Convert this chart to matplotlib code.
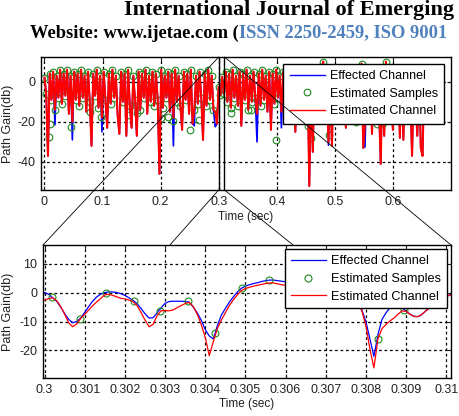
import matplotlib
matplotlib.use('Agg')
import matplotlib.pyplot as plt
import numpy as np
from matplotlib.patches import ConnectionPatch

plt.rcParams['font.family'] = ['Liberation Sans', 'DejaVu Sans']

# page header of the scanned paper
title_line = 'International Journal of Emerging'
site_text = 'Website: www.ijetae.com ('
issn_text = 'ISSN 2250-2459, ISO 9001'

# full record, one value every 3 ms (dB) - estimated channel
t_step = 0.003
est_top = [2, -6, -37, 4, -9, 5, -14, 3, -8, 6,
           -11, 4, -7, 6, -16, 3, -20, 5, -9, 4,
           -12, 6, -8, 3, -15, 5, -10, -32, 4, -7,
           6, -13, 3, -18, 5, -9, -23, 4, -11, 6,
           -8, 3, -17, -26, 5, -10, 4, -27, 6, -12,
           -23, 3, -9, -27, 5, -14, 4, -8, 6, -16,
           3, -10, 5, -12, 4, -9, -46, 6, -13, 3,
           -8, 5, -15, 4, -18, 6, -10, 3, -12, -24,
           5, -9, 4, -16, 6, -21, -14, 3, -11, 5,
           -8, -29, 4, -12, 6, -9, 3, -14, -15, -21,
           -2.6, -6.6, 2.5, -6, 5, -10, 4, -13, 6, -8,
           3, -12, 5, -22, 4, -9, 6, -14, 3, -10,
           5, -8, -16, 4, -12, 6, -9, 3, -15, 5,
           -24, 4, -11, 6, -8, 3, -15, 5, -10, 4,
           -12, 6, -9, 3, -25, 5, -11, 4, -8, 4,
           -9, 6, -52, 3, -35, 5, -12, 4, -8, 6,
           10, -11, 5, -30, 4, -32, 6, -9, 3, -13,
           5, -8, 4, -23, 6, -12, 3, -9, 5, -14,
           4, -10, 9, -33, -20, 6, -11, 3, -26, 5,
           -9, 4, -12, -41, 5, -27, 10, -8, 3, -11,
           -24, 5, -9, 4, -28, 6, -29, 3, -12, 5,
           -8, -37, 4, -10, -27, 6, -33, -37, 3, -9,
           4]
# fade tips where the effected channel goes deeper than the estimate
tip_idx = [6, 16, 33, 74, 86, 98, 122, 136, 163, 184]
tip_val = [-21.6, -29, -25, -32, -22, -22.5, -30, -23, -31.7, -32.5]
# sample circles sitting below the main band
out_t = [0.007, 0.010, 0.046, 0.079, 0.098, 0.144, 0.159, 0.200, 0.213, 0.222,
         0.250, 0.266, 0.322, 0.356, 0.399, 0.453, 0.459, 0.490, 0.536, 0.573, 0.583]
out_v = [-27.5, -21, -22.5, -15, -17.5, -16.7, -15.5, -18.3, -17.5, -19.5,
         -24, -19, -15.7, -14, -29.3, -22, -28.3, -26.7, -20, -21, -20.5]

# zoomed window starting at 0.300 s, one value every 0.1 ms
z_start = 0.3
z_step = 0.0001
eff_zoom = [0, -0.6, -1.8, -3.0, -5.0, -7.3, -9.3, -10.4, -10.0, -8.8,
            -6.8, -4.8, -2.9, -1.5, -0.5, 0, 0.2, 0.2, 0, -0.4,
            -1.0, -1.8, -2.7, -3.8, -5.5, -7.3, -8.8, -8.7, -7.0, -5.3,
            -3.7, -3.1, -3.0, -3.0, -3.0, -3.1, -3.3, -5.0, -7.0, -9.5,
            -12.8, -15.0, -16.0, -11.5, -7.8, -5.5, -3.3, -1.5, 0.2, 1.5,
            2.2, 2.7, 3.1, 3.4, 3.8, 4.1, 4.3, 4.3, 4.1, 3.9,
            3.7, 3.5, 3.2, 2.8, 2.2, 1.5, 0.8, 0.5, 0.8, 1.0,
            0.8, 0.2, -0.5, -1.0, -1.2, -1.0, -1.2, -2.0, -3.2, -6.0,
            -10.0, -16.0, -22.0, -14.5, -9.3, -7.0, -5.3, -4.5, -4.5, -5.2,
            -6.5, -7.5, -8.2, -8.3, -7.5, -6.2, -5.2, -4.0, -3.0, -2.0,
            -1.2, -0.8, -0.5]
est_zoom = [-2.6, -2.1, -1.8, -2.8, -4.8, -7.5, -10.5, -11.8, -10.8, -8.9,
            -7.5, -6.0, -4.5, -3.2, -2.0, -0.8, -0.6, -1.0, -1.5, -2.0,
            -2.2, -2.6, -3.1, -4.5, -6.8, -9.5, -11.8, -11.0, -8.0, -6.3,
            -6.2, -6.3, -6.0, -5.2, -4.5, -3.8, -3.4, -4.8, -7.5, -11.0,
            -15.5, -21.8, -17.0, -12.5, -9.5, -7.0, -4.5, -2.5, -0.8, 0.7,
            1.4, 1.8, 2.2, 2.5, 2.8, 3.1, 3.3, 3.3, 3.0, 2.7,
            2.5, 2.4, 2.2, 1.8, 1.2, 0.5, 0.0, -0.3, 0.2, 0.5,
            0.2, -0.4, -1.0, -1.5, -1.6, -1.4, -1.8, -2.5, -3.8, -6.3,
            -11.5, -19.5, -26.0, -16.0, -12.5, -11.0, -9.8, -8.8, -7.5, -6.3,
            -6.5, -7.5, -8.3, -8.3, -7.5, -6.2, -5.2, -4.0, -3.0, -2.0,
            -1.3, -0.9, -0.6]
samp_t = [0.30019, 0.30088, 0.30154, 0.30222, 0.30288, 0.30357, 0.30425, 0.30491,
          0.30558, 0.30626, 0.30693, 0.30760, 0.30829, 0.30894, 0.30962]
samp_v = [-1.7, -9.1, 0.0, -2.8, -6.3, -3.0, -13.8, 1.4,
          4.3, 2.0, 0.5, -1.8, -15.9, -6.0, -3.5]

labels = ['Effected Channel', 'Estimated Samples', 'Estimated Channel']
blue, green, red = '#0000ff', '#1f8a1f', '#ff0000'

t_top = np.arange(len(est_top)) * t_step
est_top = np.array(est_top, float)
eff_top = est_top.copy()
eff_top[tip_idx] = tip_val
keep = est_top >= -14

t_zoom = z_start + np.arange(len(eff_zoom)) * z_step

fig = plt.figure(figsize=(4.6, 4.16), dpi=100)
ax1 = fig.add_axes([0.0891, 0.5433, 0.8913, 0.3197])
ax2 = fig.add_axes([0.0935, 0.0913, 0.8870, 0.3197])

grid_kw = dict(color='k', linestyle=(0, (2.2, 2.2)), linewidth=0.9)
leg_kw = dict(loc='upper right', bbox_to_anchor=(1, 1), frameon=True,
              fancybox=False, edgecolor='k', framealpha=1,
              handletextpad=0.4, labelspacing=0.45, numpoints=1)

# top: whole record
h1, = ax1.plot(t_top, eff_top, color=blue, lw=1.2)
h2, = ax1.plot(t_top[keep], est_top[keep], 'o', mfc='none', mec=green, ms=4.8, mew=0.8)
ax1.plot(out_t, out_v, 'o', mfc='none', mec=green, ms=4.8, mew=0.8)
h3, = ax1.plot(t_top, est_top, color=red, lw=1.5)
ax1.axvline(0.3, color='k', lw=1.0)
ax1.axvline(0.31, color='k', lw=1.0)
ax1.set_xlim(-0.006, 0.7)
ax1.set_ylim(-54, 12.3)
ax1.set_xticks(np.arange(0, 0.61, 0.1))
ax1.set_xticklabels(['0', '0.1', '0.2', '0.3', '0.4', '0.5', '0.6'])
ax1.set_yticks([-40, -20, 0])
ax1.set_yticklabels(['-40', '-20', '0'])
ax1.grid(True, **grid_kw)
leg1 = ax1.legend([h1, h2, h3], labels, borderaxespad=0.55, fontsize=9,
                  handlelength=2.8, borderpad=0.5, **leg_kw)
leg1.get_frame().set_linewidth(1.0)
for ln in leg1.get_lines():
    ln.set_linewidth(1.0)
ax1.set_xlabel('Time (sec)', fontsize=8.5, color='#222222')
ax1.set_ylabel('Path Gain(db)', fontsize=9, color='#222222')
ax1.xaxis.set_label_coords(0.5, -0.155)
ax1.yaxis.set_label_coords(-0.066, 0.5)

# bottom: zoomed window
g1, = ax2.plot(t_zoom, eff_zoom, color=blue, lw=0.9)
g2, = ax2.plot(samp_t, samp_v, 'o', mfc='none', mec=green, ms=5.0, mew=0.8)
g3, = ax2.plot(t_zoom, est_zoom, color=red, lw=0.9)
ax2.set_xlim(0.29996, 0.31012)
ax2.set_ylim(-29.5, 16.4)
zt = np.arange(11) * 0.001 + 0.3
ax2.set_xticks(zt)
ax2.set_xticklabels(['0.3'] + ['%.3f' % v for v in zt[1:-1]] + ['0.31'])
ax2.set_yticks([-20, -10, 0, 10])
ax2.set_yticklabels(['-20', '-10', '0', '10'])
ax2.grid(True, **grid_kw)
leg2 = ax2.legend([g1, g2, g3], labels, borderaxespad=0.35, fontsize=9.2,
                  handlelength=2.7, borderpad=0.45, **leg_kw)
leg2.get_frame().set_linewidth(1.0)
ax2.set_xlabel('Time (sec)', fontsize=8.5, color='#222222')
ax2.set_ylabel('Path Gain(db)', fontsize=9, color='#222222')
ax2.xaxis.set_label_coords(0.5, -0.15)
ax2.yaxis.set_label_coords(-0.071, 0.5)

for ax in (ax1, ax2):
    ax.tick_params(direction='in', top=True, right=True, length=3, width=0.8,
                   labelsize=9, pad=4, colors='#222222')
    for s in ax.spines.values():
        s.set_linewidth(1.0)

# lines from the zoom box down to the lower axes
y_lo, y_hi = ax1.get_ylim()
links = [(0.3, y_hi, 0.0), (0.31, y_hi, 1.0), (0.3, y_lo, 0.311), (0.31, y_lo, 0.613)]
for xa, ya, xb in links:
    con = ConnectionPatch(xyA=(xa, ya), coordsA=ax1.transData, xyB=(xb, 1.0),
                          coordsB=ax2.transAxes, color='k', lw=0.6)
    con.set_zorder(10)
    fig.add_artist(con)

# header text
W, H = fig.bbox.width, fig.bbox.height
fig.text(124 / W, 1 - 15 / H, title_line, family='Liberation Serif',
         fontweight='bold', fontsize=16, va='baseline', ha='left')
site = fig.text(30 / W, 1 - 37.5 / H, site_text, family='Liberation Serif',
                fontweight='bold', fontsize=13.3, va='baseline', ha='left')
fig.canvas.draw()
bb = site.get_window_extent(renderer=fig.canvas.get_renderer())
fig.text(bb.x1 / W, 1 - 37.5 / H, issn_text, family='Liberation Serif',
         fontweight='bold', fontsize=13.3, va='baseline', ha='left', color='#4f81bd')

fig.savefig('out.png', dpi=100)
